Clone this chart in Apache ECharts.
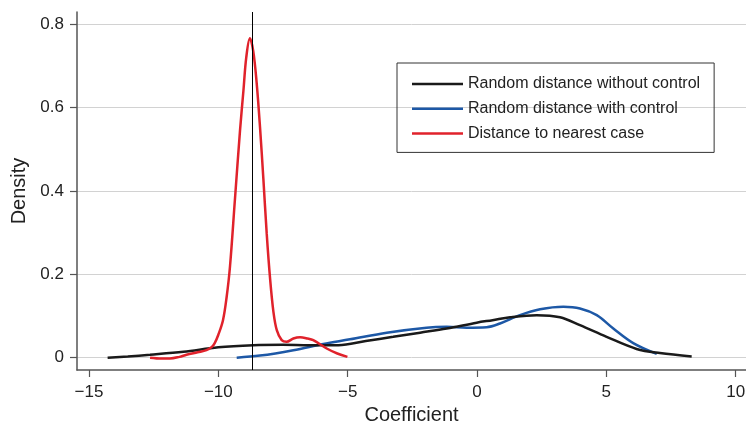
<!DOCTYPE html>
<html>
<head>
<meta charset="utf-8">
<script src="https://cdn.jsdelivr.net/npm/echarts@6/dist/echarts.min.js"></script>
<style>
  html, body { margin: 0; padding: 0; background: #fff; }
  #chart { width: 746px; height: 424px; }
</style>
</head>
<body>
<div id="chart"></div>
<script>
// tick labels
const xTicks = [-15, -10, -5, 0, 5, 10];
const yTicks = [0, 0.2, 0.4, 0.6, 0.8];

// Random distance without control
const blackX = [-14.28, -13.5, -12.64, -11.35, -10.0, -8.65, -7.5, -6.5, -5.36, -4.3, -3.24, -2.2, -1.17, -0.01, 0.6, 1.28, 2.31, 3.21, 3.98, 5.01, 6.17, 7.07, 8.30];
const blackY = [0.000, 0.003, 0.007, 0.014, 0.025, 0.030, 0.031, 0.030, 0.030, 0.040, 0.050, 0.060, 0.070, 0.084, 0.090, 0.097, 0.102, 0.097, 0.078, 0.050, 0.021, 0.011, 0.003];

// Random distance with control
const blueX = [-9.29, -8.39, -7.10, -5.94, -4.91, -3.49, -1.95, -1.17, -0.40, 0.37, 0.89, 1.66, 2.44, 3.34, 3.98, 4.63, 5.27, 6.04, 6.95];
const blueY = [0.000, 0.005, 0.018, 0.033, 0.044, 0.060, 0.072, 0.074, 0.072, 0.073, 0.082, 0.102, 0.116, 0.122, 0.118, 0.102, 0.070, 0.035, 0.009];

// Distance to nearest case
const redX = [-12.64, -12.2, -11.87, -11.5, -11.23, -10.8, -10.46, -10.25, -10.14, -10.0, -9.82, -9.68, -9.55, -9.36, -9.16, -9.03, -8.92, -8.78, -8.65, -8.52, -8.39, -8.26, -8.13, -8.0, -7.87, -7.74, -7.55, -7.36, -7.1, -6.84, -6.55, -6.33, -5.81, -5.4, -5.01];
const redY = [0.000, -0.002, -0.002, 0.002, 0.007, 0.013, 0.018, 0.026, 0.035, 0.055, 0.090, 0.145, 0.218, 0.378, 0.546, 0.640, 0.720, 0.766, 0.735, 0.660, 0.554, 0.430, 0.298, 0.190, 0.110, 0.066, 0.042, 0.038, 0.046, 0.049, 0.046, 0.042, 0.022, 0.010, 0.002];

// reference line
const refLineX = -8.69;

const seriesNames = ['Random distance without control', 'Random distance with control', 'Distance to nearest case'];
const seriesColors = ['#1a1a1a', '#1d58a6', '#e0222b'];

const font = 'Liberation Sans, Arial, Helvetica, sans-serif';
const pairs = (xs, ys) => xs.map((x, i) => [x, ys[i]]);
const minus = v => String(v).replace('-', '\u2212');

const chart = echarts.init(document.getElementById('chart'));

chart.setOption({
  animation: false,
  grid: { left: 77, right: 0, top: 12, bottom: 54, outerBoundsMode: 'none', containLabel: false },
  legend: {
    orient: 'vertical',
    left: 397,
    top: 63,
    padding: [13, 14, 11, 15],
    itemWidth: 51,
    itemHeight: 16,
    itemGap: 8.7,
    icon: 'path://M0,0H51V2.5H0Z',
    borderColor: '#333',
    borderWidth: 1,
    textStyle: { fontFamily: font, fontSize: 16, color: '#222' },
    data: seriesNames
  },
  xAxis: {
    type: 'value',
    min: -15.464,
    max: 10.40,
    name: 'Coefficient',
    nameLocation: 'middle',
    nameGap: 35,
    nameTextStyle: { fontFamily: font, fontSize: 20, color: '#222' },
    axisLine: { onZero: false, lineStyle: { color: '#555', width: 1.5 } },
    axisTick: { customValues: xTicks, length: 7, lineStyle: { color: '#555', width: 1.2 } },
    axisLabel: { customValues: xTicks, margin: 14, fontFamily: font, fontSize: 17, color: '#222', formatter: minus },
    splitLine: { show: false }
  },
  yAxis: {
    type: 'value',
    min: -0.0295,
    max: 0.8288,
    name: 'Density',
    nameLocation: 'middle',
    nameGap: 48,
    nameTextStyle: { fontFamily: font, fontSize: 20, color: '#222' },
    axisLine: { show: true, onZero: false, lineStyle: { color: '#555', width: 1.5 } },
    axisTick: { show: true, customValues: yTicks, length: 7, lineStyle: { color: '#555', width: 1.2 } },
    axisLabel: { customValues: yTicks, margin: 13, fontFamily: font, fontSize: 17, color: '#222' },
    splitLine: { show: true, lineStyle: { color: '#d2d2d2', width: 1 } }
  },
  series: [
    {
      name: seriesNames[0],
      type: 'line',
      data: pairs(blackX, blackY),
      smooth: 0.35,
      symbol: 'none',
      lineStyle: { width: 2.5, color: seriesColors[0] },
      itemStyle: { color: seriesColors[0] },
      z: 3,
      markLine: {
        silent: true,
        symbol: 'none',
        label: { show: false },
        lineStyle: { color: '#000', width: 1, type: 'solid' },
        data: [{ xAxis: refLineX }]
      }
    },
    {
      name: seriesNames[1],
      type: 'line',
      data: pairs(blueX, blueY),
      smooth: 0.35,
      symbol: 'none',
      lineStyle: { width: 2.5, color: seriesColors[1] },
      itemStyle: { color: seriesColors[1] },
      z: 2
    },
    {
      name: seriesNames[2],
      type: 'line',
      data: pairs(redX, redY),
      smooth: 0.35,
      symbol: 'none',
      lineStyle: { width: 2.5, color: seriesColors[2] },
      itemStyle: { color: seriesColors[2] },
      z: 4
    }
  ]
});
</script>
</body>
</html>
